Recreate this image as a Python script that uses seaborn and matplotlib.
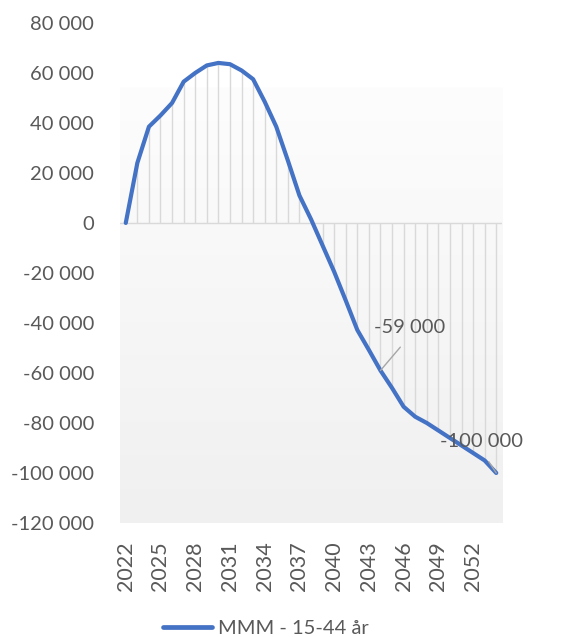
import numpy as np
import pandas as pd
import seaborn as sns
import matplotlib.pyplot as plt
import matplotlib.colors as mcolors
from matplotlib.ticker import FuncFormatter

# data
years = list(range(2022, 2055))
values = [0, 24000, 38500, 43000, 48000, 56500, 60000, 63000, 64000, 63500,
          61000, 57500, 48500, 38500, 25000, 11000, 1500, -9000, -19500, -31000,
          -42800, -50800, -59000, -66000, -73500, -77500, -80000, -83000, -86000,
          -89000, -92000, -95000, -100000]
tick_years = list(range(2022, 2053, 3))
series_name = "MMM - 15-44 år"
labelled = {2044: "-59 000", 2054: "-100 000"}

df = pd.DataFrame({"year": years, "value": values, "series": series_name})

sns.set_theme(style="white")
plt.rcParams['font.family'] = ['Lato', 'DejaVu Sans']

text_col = "#595959"
line_col = "#4472C4"
grid_col = "#d9d9d9"

fig = plt.figure(figsize=(5.63, 6.37), dpi=100)
ax = fig.add_axes([0.2131, 0.179, 0.6786, 0.785])

# light gradient plot area
grad = np.linspace(0, 1, 256).reshape(-1, 1)
cmap = mcolors.LinearSegmentedColormap.from_list("bg", ["#fdfdfd", "#f0f0f0"])
ax.imshow(grad, extent=[2021.5, 2054.5, -120000, 54000], aspect='auto',
          cmap=cmap, zorder=0, origin='upper')

# drop lines and zero line
ax.vlines(df["year"], 0, df["value"], color=grid_col, lw=1.0, zorder=1)
ax.axhline(0, color=grid_col, lw=1.0, zorder=1)

sns.lineplot(data=df, x="year", y="value", hue="series", palette=[line_col],
             lw=3.0, ax=ax, zorder=3, legend=False)

for yr, lab in labelled.items():
    v = values[years.index(yr)]
    if yr == 2044:
        pos = (2046.5, -42000)
    else:
        pos = (2052.7, -87500)
    ax.annotate(lab, xy=(yr, v), xytext=pos, ha='center', va='center',
                fontsize=14.5, color=text_col, zorder=4,
                arrowprops=dict(arrowstyle='-', color='#a6a6a6', lw=1.0,
                                shrinkA=7, shrinkB=0, relpos=(0.5, 0)))

ax.set_xlim(2021.5, 2054.5)
ax.set_ylim(-120000, 80000)
ax.set_xticks(tick_years)
ax.set_xticklabels([str(y) for y in tick_years], rotation=90)
ax.set_yticks(range(-120000, 80001, 20000))
ax.yaxis.set_major_formatter(FuncFormatter(
    lambda v, p: ("-" if v < 0 else "") + f"{abs(int(v)):,}".replace(",", " ")))
ax.tick_params(axis='y', length=0, pad=18.5, labelsize=14.5, labelcolor=text_col)
ax.tick_params(axis='x', length=0, pad=13, labelsize=15.5, labelcolor=text_col)
ax.set_xlabel("")
ax.set_ylabel("")
ax.set_facecolor("white")
for s in ax.spines.values():
    s.set_visible(False)

handle = plt.Line2D([], [], color=line_col, lw=3.4)
fig.legend([handle], [series_name], loc='center', bbox_to_anchor=(0.4725, 0.014),
           frameon=False, fontsize=14.5, labelcolor=text_col, handlelength=2.4,
           handletextpad=0.3, borderaxespad=0)

fig.savefig("out.png", dpi=100)
plt.close()
